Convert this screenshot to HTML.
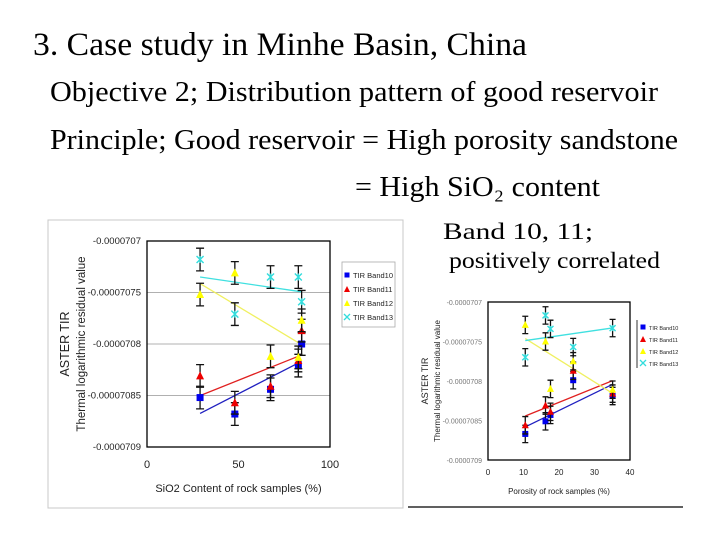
<!DOCTYPE html>
<html><head><meta charset="utf-8">
<style>
html,body{margin:0;padding:0;background:#fff;width:720px;height:540px;overflow:hidden}
svg text{font-family:"Liberation Sans",sans-serif}
.serif{font-family:"Liberation Serif",serif}
</style></head>
<body>
<svg id="slide" width="720" height="540" viewBox="0 0 720 540" xmlns="http://www.w3.org/2000/svg">
  <text class="serif" x="33" y="55" font-size="33" textLength="494" lengthAdjust="spacingAndGlyphs" fill="#000">3. Case study in Minhe Basin, China</text>
  <text class="serif" x="50" y="101" font-size="28" textLength="608" lengthAdjust="spacingAndGlyphs">Objective 2; Distribution pattern of good reservoir</text>
  <text class="serif" x="50" y="149" font-size="28" textLength="628" lengthAdjust="spacingAndGlyphs">Principle; Good reservoir = High porosity sandstone</text>
  <text class="serif" x="355" y="196" font-size="28" textLength="245" lengthAdjust="spacingAndGlyphs">= High SiO₂ content</text>
  <text class="serif" x="443" y="239" font-size="23" textLength="150" lengthAdjust="spacingAndGlyphs">Band 10, 11;</text>
  <text class="serif" x="449" y="268" font-size="23" textLength="211" lengthAdjust="spacingAndGlyphs">positively correlated</text>
  <g id="chart1"></g>
  <g id="chart2"></g>
</svg>
<script>
// Values: units of 1e-11 below -0.0000707 (0 = -0.0000707, 20 = -0.0000709)
const yTickLabels = ["-0.0000707","-0.00007075","-0.0000708","-0.00007085","-0.0000709"];
const yTickValues = [0,5,10,15,20];
const seriesNames = ["TIR Band10","TIR Band11","TIR Band12","TIR Band13"];
const c1X = [29,48,67.5,82.7,84.5];
const c1Band10 = [15.2,16.8,14.4,12.1,10.0];
const c1Band11 = [13.1,15.7,14.1,11.6,8.7];
const c1Band12 = [5.2,3.1,11.2,11.3,7.7];
const c1Band13 = [1.8,7.1,3.5,3.5,5.9];
const c1XTicks = [0,50,100];
const c2X = [10.5,16.2,17.6,24,35.1];
const c2Band10 = [16.7,15.1,14.3,9.9,11.9];
const c2Band11 = [15.6,13.1,13.9,8.7,11.6];
const c2Band12 = [2.9,5.0,11.0,7.5,11.1];
const c2Band13 = [7.0,1.7,3.4,5.7,3.3];
const c2XTicks = [0,10,20,30,40];
const errorSize = 1.1;

const NS="http://www.w3.org/2000/svg";
const colors=["#0000ee","#ee0000","#ffff00","#33dddd"];
const lineColors=["#2020c0","#e02020","#f0f060","#40e0e0"];
function mk(parent,tag,attrs){const e=document.createElementNS(NS,tag);for(const k in attrs)e.setAttribute(k,attrs[k]);parent.appendChild(e);return e;}
function fit(xs,ys){const n=xs.length;let sx=0,sy=0,sxx=0,sxy=0;for(let i=0;i<n;i++){sx+=xs[i];sy+=ys[i];sxx+=xs[i]*xs[i];sxy+=xs[i]*ys[i];}const b=(n*sxy-sx*sy)/(n*sxx-sx*sx);return [b,(sy-b*sx)/n];}

function drawChart(g,cfg){
  const {L,R,T,B,xmin,xmax,xs,series,xTicks,small}=cfg;
  const X=v=>L+(v-xmin)/(xmax-xmin)*(R-L);
  const Y=v=>T+v/20*(B-T);
  if(cfg.frame){const f=mk(g,'rect',cfg.frame);}
  const fs=small?7:9.5;
  yTickValues.forEach((v,i)=>{
    if(i>0&&i<4&&!small){const gl=mk(g,'line',{x1:L,x2:R,y1:Y(v),y2:Y(v),stroke:'#b0b0b0','stroke-width':1});
      }
    const t=mk(g,'text',{x:L-6,y:Y(v)+3,'font-size':fs,'text-anchor':'end',fill:small?'#777':'#222'});
    t.textContent=yTickLabels[i];
  });
  xTicks.forEach(v=>{
    const t=mk(g,'text',{x:X(v),y:B+(small?15:21),'font-size':small?8:11,'text-anchor':'middle',fill:'#222'});
    t.textContent=v;
  });
  const pa=mk(g,'rect',{x:L,y:T,width:R-L,height:B-T,fill:'none',stroke:'#000','stroke-width':1.3});
  
  series.forEach((ys,s)=>{
    const [b,a]=fit(xs,ys);const x0=Math.min(...xs),x1=Math.max(...xs);
    const tl=mk(g,'line',{x1:X(x0),y1:Y(a+b*x0),x2:X(x1),y2:Y(a+b*x1),stroke:lineColors[s],'stroke-width':1.3});
    
  });
  series.forEach((ys,s)=>{
    ys.forEach((v,i)=>{
      const cx=X(xs[i]),cy=Y(v),e1=Y(v-errorSize),e2=Y(v+errorSize),w=small?3:4;
      const eb=mk(g,'path',{d:`M${cx},${e1}V${e2}M${cx-w},${e1}H${cx+w}M${cx-w},${e2}H${cx+w}`,stroke:'#111','stroke-width':1.3,fill:'none'});
      
      const r=small?3:3.5;let m;
      if(s===0)m=mk(g,'rect',{x:cx-r,y:cy-r,width:2*r,height:2*r,fill:colors[0]});
      else if(s===3)m=mk(g,'path',{d:`M${cx-r},${cy-r}L${cx+r},${cy+r}M${cx-r},${cy+r}L${cx+r},${cy-r}M${cx},${cy-r}V${cy+r}`,stroke:colors[3],'stroke-width':1.4});
      else m=mk(g,'path',{d:`M${cx},${cy-r-1}L${cx+r+0.5},${cy+r}L${cx-r-0.5},${cy+r}Z`,fill:colors[s]});
      
    });
  });
  const lg=mk(g,'g',{});
  if(cfg.legendBox)mk(lg,'rect',cfg.legendBox);
  if(cfg.legendLine)mk(lg,'line',cfg.legendLine);
  seriesNames.forEach((n,s)=>{
    const ly=cfg.legendY+s*cfg.legendStep,lx=cfg.legendX;
    const eg=mk(lg,'g',{});
    if(s===0)mk(eg,'rect',{x:lx-2.5,y:ly-2.5,width:5,height:5,fill:colors[0]});
    else if(s===3)mk(eg,'path',{d:`M${lx-3},${ly-3}L${lx+3},${ly+3}M${lx-3},${ly+3}L${lx+3},${ly-3}`,stroke:colors[3],'stroke-width':1.3});
    else mk(eg,'path',{d:`M${lx},${ly-3}L${lx+3},${ly+3}L${lx-3},${ly+3}Z`,fill:colors[s]});
    const t=mk(eg,'text',{x:lx+6,y:ly+3,'font-size':small?5.5:7.5,fill:'#222'});t.textContent=n;
  });
  const t1=mk(g,'text',{transform:`translate(${cfg.yt1x},${(T+B)/2}) rotate(-90)`,'font-size':small?9:12.5,'text-anchor':'middle',fill:'#222'});
  t1.textContent='ASTER TIR';
  const t2=mk(g,'text',{transform:`translate(${cfg.yt2x},${(T+B)/2}) rotate(-90)`,'font-size':small?8:11.5,'text-anchor':'middle',fill:'#222'});
  t2.textContent='Thermal logarithmic residual value';
  const xt=mk(g,'text',{x:(L+R)/2,y:cfg.xtY,'font-size':small?8:11,'text-anchor':'middle',fill:'#222'});
  xt.textContent=cfg.xTitle;
}

drawChart(document.getElementById('chart1'),{L:147,R:330,T:241,B:447,xmin:0,xmax:100,xs:c1X,
  series:[c1Band10,c1Band11,c1Band12,c1Band13],xTicks:c1XTicks,small:false,
  frame:{x:48,y:220,width:355,height:288,fill:'#fff',stroke:'#c8c8c8','stroke-width':1},
  legendBox:{x:342,y:262,width:53,height:65,fill:'#fff',stroke:'#aaa','stroke-width':0.8},
  legendX:347,legendY:275,legendStep:14,yt1x:69,yt2x:85,xtY:492,xTitle:'SiO2 Content of rock samples (%)'});
drawChart(document.getElementById('chart2'),{L:488,R:630,T:302,B:460,xmin:0,xmax:40,xs:c2X,
  series:[c2Band10,c2Band11,c2Band12,c2Band13],xTicks:c2XTicks,small:true,
  frame:{x:408,y:285,width:275,height:223,fill:'#fff',stroke:'none'},
  legendLine:{x1:637,y1:320,x2:637,y2:368,stroke:'#333','stroke-width':1},
  legendX:643,legendY:327,legendStep:12,yt1x:428,yt2x:440,xtY:494,xTitle:'Porosity of rock samples (%)'});
const bl=document.createElementNS(NS,'line');
bl.setAttribute('x1',408);bl.setAttribute('x2',683);bl.setAttribute('y1',507);bl.setAttribute('y2',507);
bl.setAttribute('stroke','#000');bl.setAttribute('stroke-width',1.3);


document.getElementById('chart2').appendChild(bl);
</script>
</body></html>
